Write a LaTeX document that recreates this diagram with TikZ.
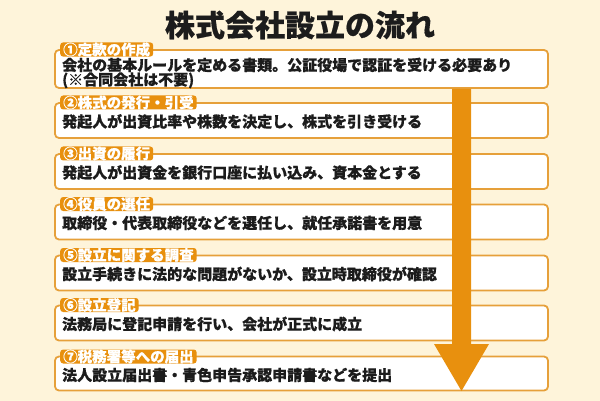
\documentclass[tikz,border=0pt]{standalone}
\usepackage{fontspec}
\setmainfont{Noto Sans CJK JP}[BoldFeatures={FakeBold=0.6}]
\usetikzlibrary{calc}
\definecolor{bgcream}{HTML}{FEF4DA}
\definecolor{taborange}{HTML}{E8900E}
\definecolor{boxline}{HTML}{E6A03A}
\definecolor{inkblack}{HTML}{1C1C1C}
\begin{document}
\begin{tikzpicture}[x=1pt,y=-1pt,
  titlestyle/.style={font=\fontsize{30}{30}\selectfont\bfseries, text=inkblack, inner sep=0pt},
  stepbox/.style={draw=boxline, line width=1.8pt, fill=white, rounded corners=4pt,
    minimum width=493pt, inner sep=0pt},
  tabstyle/.style={fill=taborange, text=white, rounded corners=3pt, inner xsep=3pt,
    inner ysep=0pt, minimum height=14pt, anchor=west, font=\fontsize{14.5}{14.5}\selectfont\bfseries},
  bodytext/.style={anchor=west, inner sep=0pt, text=inkblack, align=left,
    font=\fontsize{15}{14.5}\selectfont\bfseries},
  arrowfill/.style={fill=taborange}]
\useasboundingbox (0,0) rectangle (600,401);
\fill[bgcream] (0,0) rectangle (600,401);

\node[titlestyle] (title) at (300,25) {株式会社設立の流れ};

% boxes
\node[stepbox, minimum height=38pt] (box1) at (301.5,69) {};
\node[stepbox, minimum height=35pt] (box2) at (301.5,120.5) {};
\node[stepbox, minimum height=35pt] (box3) at (301.5,171.5) {};
\node[stepbox, minimum height=35pt] (box4) at (301.5,222) {};
\node[stepbox, minimum height=35pt] (box5) at (301.5,273) {};
\node[stepbox, minimum height=35pt] (box6) at (301.5,323) {};
\node[stepbox, minimum height=34pt] (box7) at (301.5,373.5) {};

% body texts
\node[bodytext] (t1) at (62,73) {会社の基本ルールを定める書類。公証役場で認証を受ける必要あり\\(※合同会社は不要)};
\node[bodytext] (t2) at (62,121.5) {発起人が出資比率や株数を決定し、株式を引き受ける};
\node[bodytext] (t3) at (62,172.5) {発起人が出資金を銀行口座に払い込み、資本金とする};
\node[bodytext] (t4) at (62,223) {取締役・代表取締役などを選任し、就任承諾書を用意};
\node[bodytext] (t5) at (62,274) {設立手続きに法的な問題がないか、設立時取締役が確認};
\node[bodytext] (t6) at (62,324) {法務局に登記申請を行い、会社が正式に成立};
\node[bodytext] (t7) at (62,375) {法人設立届出書・青色申告承認申請書などを提出};

% tabs
\node[tabstyle] (tab1) at (60,49.5) {①定款の作成};
\node[tabstyle] (tab2) at (60,102.5) {②株式の発行・引受};
\node[tabstyle] (tab3) at (60,153.5) {③出資の履行};
\node[tabstyle] (tab4) at (60,204) {④役員の選任};
\node[tabstyle] (tab5) at (60,255) {⑤設立に関する調査};
\node[tabstyle] (tab6) at (60,305) {⑥設立登記};
\node[tabstyle] (tab7) at (60,356.5) {⑦税務署等への届出};

% flow arrow
\coordinate (atop) at (461.5,89);
\coordinate (atip) at (461.5,391);
\fill[arrowfill] ($(atop)+(-9.5,0)$) -- ($(atop)+(9.5,0)$) -- ($(atip)+(9.5,-47)$)
  -- ($(atip)+(27.5,-47)$) -- (atip) -- ($(atip)+(-27.5,-47)$) -- ($(atip)+(-9.5,-47)$) -- cycle;
\end{tikzpicture}
\end{document}
